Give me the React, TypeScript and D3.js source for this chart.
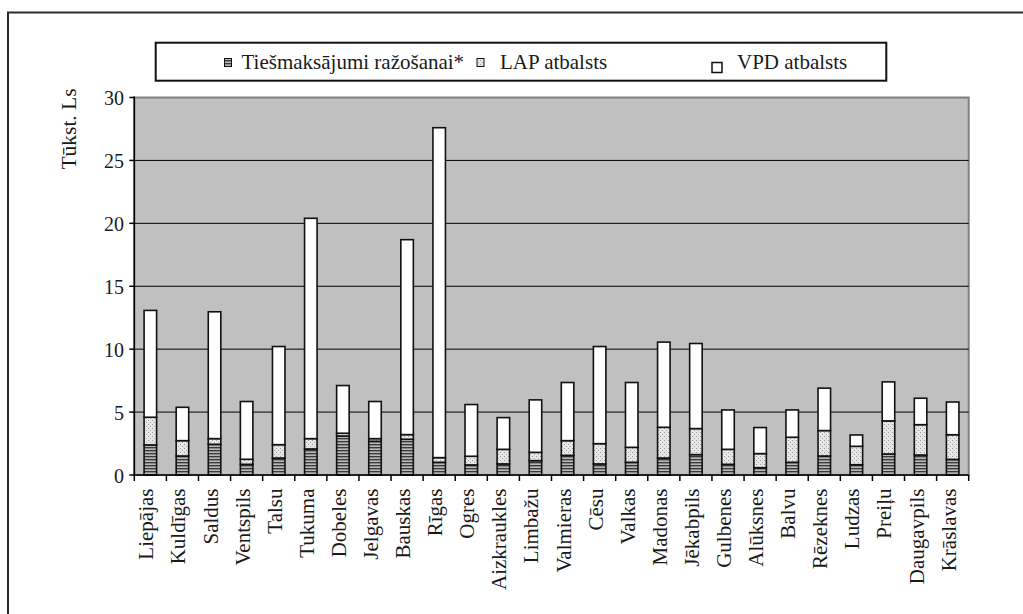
import React from "react";
import * as d3 from "d3";

const categories = [
  "Liepājas", "Kuldīgas", "Saldus", "Ventspils", "Talsu", "Tukuma", "Dobeles",
  "Jelgavas", "Bauskas", "Rīgas", "Ogres", "Aizkraukles", "Limbažu", "Valmieras",
  "Cēsu", "Valkas", "Madonas", "Jēkabpils", "Gulbenes", "Alūksnes", "Balvu",
  "Rēzeknes", "Ludzas", "Preiļu", "Daugavpils", "Krāslavas",
];
const directPayments = [
  2.39, 1.51, 2.44, 0.85, 1.35, 2.07, 3.1, 2.68, 2.84, 1.01, 0.8, 0.88, 1.14,
  1.56, 0.88, 1.01, 1.35, 1.62, 0.85, 0.58, 1.01, 1.51, 0.82, 1.67, 1.59, 1.24,
];
const lapSupport = [
  2.2, 1.22, 0.45, 0.4, 1.06, 0.82, 0.22, 0.21, 0.37, 0.37, 0.69, 1.16, 0.66,
  1.17, 1.61, 1.19, 2.44, 2.07, 1.19, 1.12, 1.99, 2.02, 1.46, 2.63, 2.41, 1.96,
];
const vpdSupport = [
  8.49, 2.65, 10.08, 4.59, 7.8, 17.51, 3.79, 2.95, 15.49, 26.22, 4.11, 2.52,
  4.17, 4.62, 7.72, 5.15, 6.77, 6.76, 3.13, 2.07, 2.17, 3.37, 0.9, 3.1, 2.1, 2.6,
];
const seriesNames = ["Tiešmaksājumi ražošanai*", "LAP atbalsts", "VPD atbalsts"];
const yTicks = [0, 5, 10, 15, 20, 25, 30];
const yTitle = "Tūkst. Ls";

const W = 1023;
const H = 614;
const FONT = '"Liberation Serif", "Times New Roman", Tinos, Times, "DejaVu Serif", serif';
const fills = ["url(#stripes)", "url(#dots)", "#ffffff"];
const txt = { fontFamily: FONT } as React.CSSProperties;

export default function App() {
  const plotL = 134.3, plotR = 968.7, plotT = 97.5, plotB = 475;
  const x = d3.scaleBand<string>().domain(categories).range([plotL, plotR])
    .paddingInner(0.61).paddingOuter(0.305);
  const y = d3.scaleLinear().domain([0, 30]).range([plotB, plotT]);
  const rows = categories.map((c, i) => ({
    cat: c, d: directPayments[i], l: lapSupport[i], v: vpdSupport[i],
  }));
  const stack = d3.stack<any>().keys(["d", "l", "v"]);
  const layers = stack(rows);
  const step = x.step();
  const boundaries = d3.range(categories.length + 1).map((i) => plotL + i * step);

  return (
    <svg width={W} height={H} style={{ position: "absolute", left: 0, top: 0, background: "#fff" }}>
      <defs>
        <pattern id="stripes" patternUnits="userSpaceOnUse" width={4} height={3}>
          <rect width={4} height={3} fill="#8a8a8a" />
          <rect width={4} height={1} y={0} fill="#3a3a3a" />
          <rect width={4} height={1} y={2} fill="#b8b8b8" />
        </pattern>
        <pattern id="dots" patternUnits="userSpaceOnUse" width={4} height={4}>
          <rect width={4} height={4} fill="#e6e6e6" />
          <rect x={0} y={0} width={1} height={1} fill="#9a9a9a" />
          <rect x={2} y={2} width={1} height={1} fill="#a8a8a8" />
        </pattern>
      </defs>
      <rect x={0} y={0} width={W} height={H} fill="#fff" />
      <rect x={8} y={12.5} width={1040} height={640} fill="none" stroke="#2a2a2a" strokeWidth={2} />

      <rect x={155.7} y={42.7} width={730.6} height={38} fill="#fff" stroke="#111" strokeWidth={2} />
      <rect x={224.5} y={58.5} width={7} height={8} fill="url(#stripes)" stroke="#111" strokeWidth={1} />
      <text x={241.5} y={68.5} fontSize={21} fill="#1a1a1a" style={txt}>{seriesNames[0]}</text>
      <rect x={477} y={58.5} width={7} height={8} fill="url(#dots)" stroke="#111" strokeWidth={1} />
      <text x={500} y={68.5} fontSize={21} fill="#1a1a1a" style={txt}>{seriesNames[1]}</text>
      <rect x={712} y={62.5} width={10} height={10} fill="#fff" stroke="#111" strokeWidth={1.5} />
      <text x={737} y={68.5} fontSize={21} fill="#1a1a1a" style={txt}>{seriesNames[2]}</text>

      <rect x={plotL} y={plotT} width={plotR - plotL} height={plotB - plotT} fill="#c0c0c0"
        stroke="#808080" strokeWidth={2} />
      {yTicks.filter((t) => t > 0 && t < 30).map((t) => (
        <line key={t} x1={plotL} x2={plotR} y1={y(t)} y2={y(t)} stroke="#000" strokeWidth={1} />
      ))}

      {layers.map((layer, li) => (
        <g key={li}>
          {layer.map((seg, i) => (
            <rect key={i} x={x(categories[i])!} y={y(seg[1])} width={x.bandwidth()}
              height={y(seg[0]) - y(seg[1])} fill={fills[li]} stroke="#111" strokeWidth={1.6} />
          ))}
        </g>
      ))}

      <line x1={plotL} x2={plotL} y1={plotT - 1} y2={plotB} stroke="#000" strokeWidth={1.5} />
      <line x1={plotL} x2={plotR} y1={plotB} y2={plotB} stroke="#000" strokeWidth={1.5} />
      {yTicks.map((t) => (
        <g key={t}>
          <line x1={plotL - 5} x2={plotL} y1={y(t)} y2={y(t)} stroke="#000" strokeWidth={1.5} />
          <text x={124} y={y(t) + 7.5} fontSize={20} textAnchor="end" fill="#1a1a1a" style={txt}>{t}</text>
        </g>
      ))}
      {boundaries.map((bx, i) => (
        <line key={i} x1={bx} x2={bx} y1={plotB} y2={plotB + 6} stroke="#000" strokeWidth={1.5} />
      ))}
      {categories.map((c) => (
        <text key={c} transform={`translate(${x(c)! + x.bandwidth() / 2 + 3},488.5) rotate(-90)`}
          fontSize={21} textAnchor="end" fill="#1a1a1a" style={txt}>{c}</text>
      ))}
      <text transform="translate(76,129) rotate(-90)" fontSize={21.5} textAnchor="middle"
        fill="#1a1a1a" style={txt}>{yTitle}</text>
    </svg>
  );
}
